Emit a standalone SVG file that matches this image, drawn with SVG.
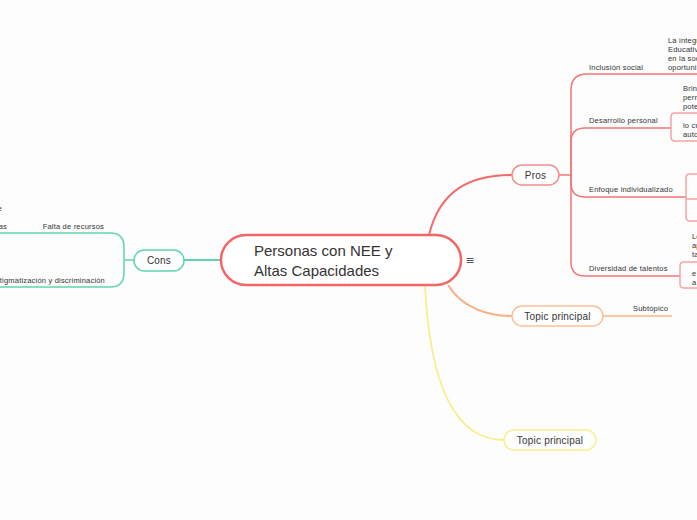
<svg xmlns="http://www.w3.org/2000/svg" width="697" height="520" viewBox="0 0 697 520">
<style>
text{font-family:"Liberation Sans",Arial,sans-serif;fill:#333}
.c{font-size:15px}
.n{font-size:10px;text-anchor:middle;letter-spacing:0.2px}
.s{font-size:7.5px;letter-spacing:0.2px}
.t{font-size:7.5px;letter-spacing:0.2px}
.red{fill:none;stroke:#f47575;stroke-width:1.5}
.redb{fill:none;stroke:#f7a3a3;stroke-width:1.5}
.org{fill:none;stroke:#fbb58a;stroke-width:1.5}
.yel{fill:none;stroke:#f8ee8c;stroke-width:1.8}
.grn{fill:none;stroke:#5fd6ab;stroke-width:1.5}
</style>
<rect width="697" height="520" fill="#fdfdfd"/>
<g id="connectors">
<path d="M429,235 C440,190 470,175 512,175" fill="none" stroke="#f46b6b" stroke-width="2"/>
<path d="M448,285 C462,308 488,316 512,316" fill="none" stroke="#fbae7e" stroke-width="2"/>
<path d="M425,286 C430,385 455,440 504,440" class="yel"/>
<path d="M221,260 H184" fill="none" stroke="#5fd6ab" stroke-width="2"/>
<path d="M559,175 H571" class="red"/>
<path d="M571,175 V90 Q571,74 587,74 H697" class="red"/>
<path d="M571,175 V142 Q571,128 585,128 H671" class="red"/>
<path d="M571,175 V183 Q571,197 585,197 H686" class="red"/>
<path d="M571,175 V262 Q571,276 585,276 H680" class="red"/>
<path d="M697,113 H675 Q671,113 671,117 V137 Q671,141 675,141 H697" class="redb"/>
<path d="M697,174 H690 Q686,174 686,178 V217 Q686,221 690,221 H697 M686,199 H697" class="redb"/>
<path d="M697,262 H684 Q680,262 680,266 V284 Q680,288 684,288 H697" class="redb"/>
<path d="M603,316 H672" class="org"/>
<path d="M134,260 H124 M0,233 H110 Q124,233 124,247 V273 Q124,287 110,287 H0" class="grn"/>
</g>
<g id="central">
<rect x="221" y="235" width="240" height="50" rx="25" fill="#fff" stroke="#f26666" stroke-width="2.5"/>
<text class="c" x="254" y="256">Personas con NEE y</text>
<text class="c" x="254" y="276">Altas Capacidades</text>
<text x="470" y="264" style="font-family:'DejaVu Sans',sans-serif;font-size:11px;fill:#555" text-anchor="middle">≡</text>
</g>
<g id="pros">
<rect x="512" y="165" width="47" height="20" rx="10" fill="#fff" stroke="#f58c8c" stroke-width="1.5"/>
<text class="n" x="535.5" y="178.5">Pros</text>
</g>
<g id="inclusion"><text class="s" x="589" y="70">Inclusión social</text></g>
<g id="inclusion-child">
<text class="t" x="668" y="43">La integr</text>
<text class="t" x="668" y="52">Educativ</text>
<text class="t" x="668" y="61">en la soc</text>
<text class="t" x="668" y="70">oportuni</text>
</g>
<g id="desarrollo"><text class="s" x="589" y="123">Desarrollo personal</text></g>
<g id="desarrollo-c1">
<text class="t" x="683" y="91">Brin</text>
<text class="t" x="683" y="100">perm</text>
<text class="t" x="683" y="109">pote</text>
</g>
<g id="desarrollo-c2">
<text class="t" x="683" y="128">lo cu</text>
<text class="t" x="683" y="137">auto</text>
</g>
<g id="enfoque"><text class="s" x="589" y="192">Enfoque individualizado</text></g>
<g id="diversidad"><text class="s" x="589" y="271">Diversidad de talentos</text></g>
<g id="diversidad-c1">
<text class="t" x="692" y="239">Lo</text>
<text class="t" x="692" y="248">ap</text>
<text class="t" x="692" y="257">ta</text>
</g>
<g id="diversidad-c2">
<text class="t" x="692" y="276">e</text>
<text class="t" x="692" y="285">a</text>
</g>
<g id="topic1">
<rect x="512" y="306" width="91" height="20" rx="10" fill="#fff" stroke="#fbc096" stroke-width="1.5"/>
<text class="n" x="557.5" y="319.5">Topic principal</text>
</g>
<g id="subtopico"><text class="t" x="633" y="311">Subtópico</text></g>
<g id="topic2">
<rect x="504" y="430" width="92" height="20" rx="10" fill="#fff" stroke="#f8ee8c" stroke-width="1.5"/>
<text class="n" x="550" y="443.5">Topic principal</text>
</g>
<g id="cons">
<rect x="134" y="250" width="50" height="21" rx="10.5" fill="#fff" stroke="#5fd6ab" stroke-width="1.5"/>
<text class="n" x="159" y="264">Cons</text>
</g>
<g id="falta"><text class="s" x="104" y="229" text-anchor="end">Falta de recursos</text></g>
<g id="falta-c1"><text class="s" x="7" y="229" text-anchor="end">as</text></g>
<g id="falta-c2"><text class="s" x="2" y="211" text-anchor="end">e</text></g>
<g id="estigma"><text class="s" x="105" y="283" text-anchor="end">Estigmatización y discriminación</text></g>
</svg>
